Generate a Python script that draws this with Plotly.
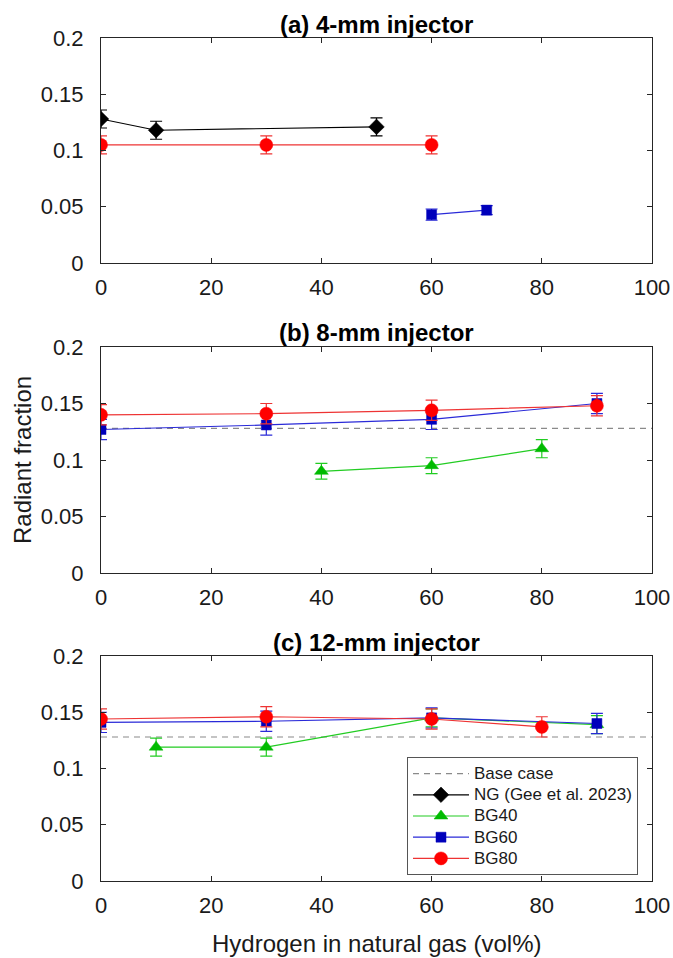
import plotly.graph_objects as go

# ---------------- data ----------------
x_ticks = [0, 20, 40, 60, 80, 100]
y_ticks = [0, 0.05, 0.1, 0.15, 0.2]
y_tick_text = ["0", "0.05", "0.1", "0.15", "0.2"]
base_case = 0.128
base_x = [0, 100]

# (a) 4-mm injector
a_ng_x = [0, 10, 50]
a_ng_y = [0.128, 0.118, 0.121]
a_ng_err = [0.008, 0.008, 0.008]
a_bg60_x = [60, 70]
a_bg60_y = [0.043, 0.047]
a_bg60_err = [0.005, 0.004]
a_bg80_x = [0, 30, 60]
a_bg80_y = [0.105, 0.105, 0.105]
a_bg80_err = [0.008, 0.008, 0.008]

# (b) 8-mm injector
b_bg40_x = [40, 60, 80]
b_bg40_y = [0.090, 0.095, 0.110]
b_bg40_err = [0.007, 0.007, 0.008]
b_bg60_x = [0, 30, 60, 90]
b_bg60_y = [0.127, 0.131, 0.136, 0.150]
b_bg60_err = [0.009, 0.009, 0.009, 0.009]
b_bg80_x = [0, 30, 60, 90]
b_bg80_y = [0.140, 0.141, 0.144, 0.148]
b_bg80_err = [0.009, 0.009, 0.009, 0.009]

# (c) 12-mm injector
c_bg40_x = [10, 30, 60, 90]
c_bg40_y = [0.119, 0.119, 0.145, 0.139]
c_bg40_err = [0.008, 0.008, 0.008, 0.008]
c_bg60_x = [0, 30, 60, 90]
c_bg60_y = [0.141, 0.142, 0.145, 0.140]
c_bg60_err = [0.009, 0.009, 0.009, 0.009]
c_bg80_x = [0, 30, 60, 80]
c_bg80_y = [0.144, 0.146, 0.144, 0.137]
c_bg80_err = [0.009, 0.009, 0.009, 0.009]

titles = ["(a) 4-mm injector", "(b) 8-mm injector", "(c) 12-mm injector"]
x_title = "Hydrogen in natural gas (vol%)"
y_title = "Radiant fraction"

# ---------------- styles ----------------
FONT = "Liberation Sans, Arial, sans-serif"
AX = "#262626"
TXT = "#1a1a1a"
styles = {
    "NG": dict(line="#000000", marker="#000000", symbol="diamond", size=12),
    "BG40": dict(line="#22cc22", marker="#00bb00", symbol="triangle-up", size=12),
    "BG60": dict(line="#2a2ad8", marker="#0000bb", symbol="square", size=10),
    "BG80": dict(line="#ee3333", marker="#ff0000", symbol="circle", size=13),
}
rank = {"Base case": 1, "NG": 2, "BG40": 3, "BG60": 4, "BG80": 5}
legend_names = {"NG": "NG (Gee et al. 2023)", "BG40": "BG40", "BG60": "BG60", "BG80": "BG80"}
LEG_TXT = 17


def leg_label(s):
    return '<span style="font-size:%dpx">%s</span>' % (LEG_TXT, s)


fig = go.Figure()


def add_series(key, x, y, err, axis_idx, show):
    s = styles[key]
    sfx = "" if axis_idx == 1 else str(axis_idx)
    fig.add_trace(go.Scatter(
        x=x, y=y, mode="lines+markers",
        name=leg_label(legend_names[key]), legendrank=rank[key], showlegend=show,
        line=dict(color=s["line"], width=1.2),
        marker=dict(color=s["marker"], symbol=s["symbol"], size=s["size"],
                    line=dict(color=s["marker"], width=0.5)),
        error_y=dict(type="data", array=err, visible=True, color=s["line"],
                     thickness=1.2, width=6),
        xaxis="x" + sfx, yaxis="y" + sfx,
    ))


def add_base(axis_idx, show):
    sfx = "" if axis_idx == 1 else str(axis_idx)
    fig.add_trace(go.Scatter(
        x=base_x, y=[base_case, base_case], mode="lines",
        name=leg_label("Base case"), legendrank=rank["Base case"], showlegend=show,
        line=dict(color="#8a8a8a", width=1.2, dash="6px,5px"),
        xaxis="x" + sfx, yaxis="y" + sfx, hoverinfo="skip",
    ))


# panel a
add_series("NG", a_ng_x, a_ng_y, a_ng_err, 1, True)
add_series("BG60", a_bg60_x, a_bg60_y, a_bg60_err, 1, False)
add_series("BG80", a_bg80_x, a_bg80_y, a_bg80_err, 1, False)
# panel b
add_base(2, False)
add_series("BG40", b_bg40_x, b_bg40_y, b_bg40_err, 2, False)
add_series("BG60", b_bg60_x, b_bg60_y, b_bg60_err, 2, False)
add_series("BG80", b_bg80_x, b_bg80_y, b_bg80_err, 2, False)
# panel c
add_base(3, True)
add_series("BG40", c_bg40_x, c_bg40_y, c_bg40_err, 3, True)
add_series("BG60", c_bg60_x, c_bg60_y, c_bg60_err, 3, True)
add_series("BG80", c_bg80_x, c_bg80_y, c_bg80_err, 3, True)

# ---------------- layout ----------------
W, H = 673, 958
L, R, T, B = 101, 21, 38, 77
plot_h = H - T - B
plot_w = W - L - R


def yfrac(px):
    return (H - B - px) / plot_h


domains = [
    [yfrac(263), yfrac(38)],
    [yfrac(573), yfrac(347)],
    [yfrac(881), yfrac(656)],
]

common_x = dict(range=[0, 100], tickvals=x_ticks, ticks="inside", ticklen=5,
                tickcolor=AX, linecolor=AX, linewidth=1, mirror="ticks",
                showgrid=False, zeroline=False, ticklabelstandoff=5,
                automargin=False,
                tickfont=dict(family=FONT, size=22, color=TXT))
common_y = dict(range=[0, 0.2], tickvals=y_ticks, ticktext=y_tick_text,
                ticks="inside", ticklen=5, tickcolor=AX, linecolor=AX,
                linewidth=1, mirror="ticks", showgrid=False, zeroline=False,
                ticklabelstandoff=12, automargin=False,
                tickfont=dict(family=FONT, size=22, color=TXT))

layout = dict(
    width=W, height=H,
    margin=dict(l=L, r=R, t=T, b=B, autoexpand=False),
    paper_bgcolor="white", plot_bgcolor="white",
    font=dict(family=FONT, color=TXT),
    showlegend=True,
    legend=dict(x=(407 - L) / plot_w, y=yfrac(757), xanchor="left",
                yanchor="top", bgcolor="white", bordercolor="#555555",
                borderwidth=1, font=dict(family=FONT, size=14, color=TXT),
                tracegroupgap=0, itemwidth=56),
)
for i in range(3):
    sfx = "" if i == 0 else str(i + 1)
    layout["xaxis" + sfx] = dict(common_x, domain=[0, 1], anchor="y" + sfx)
    layout["yaxis" + sfx] = dict(common_y, domain=domains[i], anchor="x" + sfx)

annotations = []
title_px = [25, 332, 642]
for i, t in enumerate(titles):
    annotations.append(dict(text="<b>" + t + "</b>", x=0.5, xref="paper",
                            y=yfrac(title_px[i]), yref="paper",
                            xanchor="center", yanchor="middle", showarrow=False,
                            font=dict(family=FONT, size=24, color="#000000")))
annotations.append(dict(text=x_title, x=0.5, xref="paper", y=yfrac(943),
                        yref="paper", xanchor="center", yanchor="middle",
                        showarrow=False,
                        font=dict(family=FONT, size=24, color=TXT)))
annotations.append(dict(text=y_title, x=(23 - L) / plot_w, xref="paper",
                        y=yfrac(460), yref="paper", xanchor="center",
                        yanchor="middle", textangle=-90, showarrow=False,
                        font=dict(family=FONT, size=24, color=TXT)))
layout["annotations"] = annotations

fig.update_layout(**layout)
fig.write_html("out.html",
               config={"displayModeBar": False},
               post_script="document.body.style.margin='0';document.body.style.overflow='hidden';")
